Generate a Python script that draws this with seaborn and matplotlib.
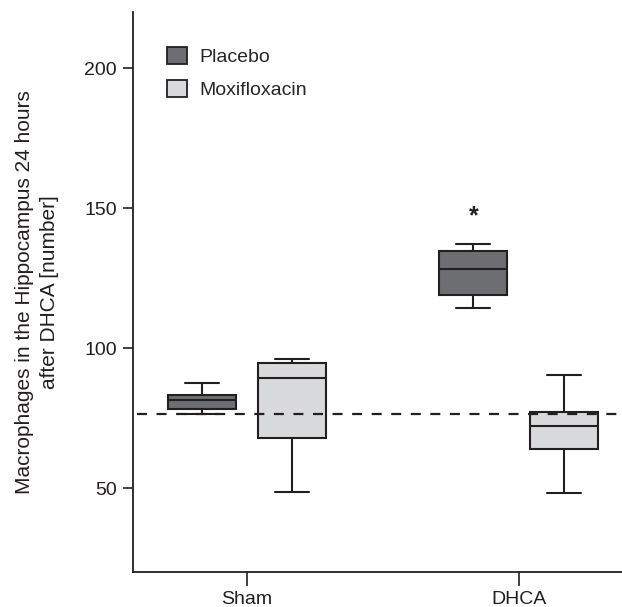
import numpy as np
import pandas as pd
import matplotlib
matplotlib.use("Agg")
import matplotlib.pyplot as plt
import seaborn as sns
from matplotlib.patches import Patch

# ---- data (five-number summaries) ----
categories = ["Sham", "DHCA"]
treatments = ["Placebo", "Moxifloxacin"]
sham_placebo = [76.4, 78.2, 81.3, 83.4, 87.5]
sham_moxi = [48.4, 67.8, 89.2, 94.8, 96.2]
dhca_placebo = [114.3, 119.1, 128.2, 134.6, 137.2]
dhca_moxi = [48.3, 63.9, 72.3, 77.3, 90.3]
reference_line = 76.3
yticks = [50, 100, 150, 200]

rows = []
for cat, tr, vals in [("Sham", "Placebo", sham_placebo),
                      ("Sham", "Moxifloxacin", sham_moxi),
                      ("DHCA", "Placebo", dhca_placebo),
                      ("DHCA", "Moxifloxacin", dhca_moxi)]:
    for v in vals:
        rows.append({"group": cat, "treatment": tr, "value": v})
df = pd.DataFrame(rows)

sns.set_style("ticks")
plt.rcParams["font.family"] = ["Liberation Sans", "DejaVu Sans"]

fig = plt.figure(figsize=(6.22, 6.07), dpi=100)
ax = fig.add_axes([0.2138, 0.0577, 0.7862, 0.9223])

line_col = "#231f20"
palette = {"Placebo": "#6d6e71", "Moxifloxacin": "#d9dadb"}
box_width = 0.667
sns.boxplot(data=df, x="group", y="value", hue="treatment",
            order=categories, hue_order=treatments, palette=palette,
            width=box_width, gap=0.25, whis=np.inf, linecolor=line_col,
            linewidth=1.5, saturation=1, legend=False, ax=ax)

ax.axhline(reference_line, color=line_col, lw=1.6, ls=(7.0, (4.5, 4.3)), zorder=5)

# significance star over DHCA placebo
star_x = categories.index("DHCA") - box_width / 4
ax.text(star_x, max(dhca_placebo) + 10, "*", ha="center", va="center",
        fontsize=18, fontweight="bold", color=line_col)

ax.set_ylim(20, 220)
ax.set_xlim(-0.42, 1.38)
ax.set_yticks(yticks)
ax.set_xlabel("")
ax.set_ylabel("Macrophages in the Hippocampus 24 hours\nafter DHCA [number]",
              fontsize=15, color=line_col, labelpad=18, linespacing=1.45)
sns.despine(ax=ax)
for s in ["left", "bottom"]:
    ax.spines[s].set_linewidth(1.3)
    ax.spines[s].set_color(line_col)
ax.tick_params(axis="y", length=7.5, width=1.2, labelsize=14, colors=line_col, pad=4)
ax.tick_params(axis="x", length=10, width=1.2, labelsize=14, colors=line_col, pad=4)

handles = [Patch(facecolor=palette[t], edgecolor=line_col, linewidth=1.3, label=t)
           for t in treatments]
ax.legend(handles=handles, loc="upper left", bbox_to_anchor=(0.07, 0.938),
          frameon=False, fontsize=14, handlelength=1.0, handleheight=1.0,
          handletextpad=0.65, labelspacing=0.7, borderaxespad=0, borderpad=0)

fig.savefig("out.png", dpi=100)
